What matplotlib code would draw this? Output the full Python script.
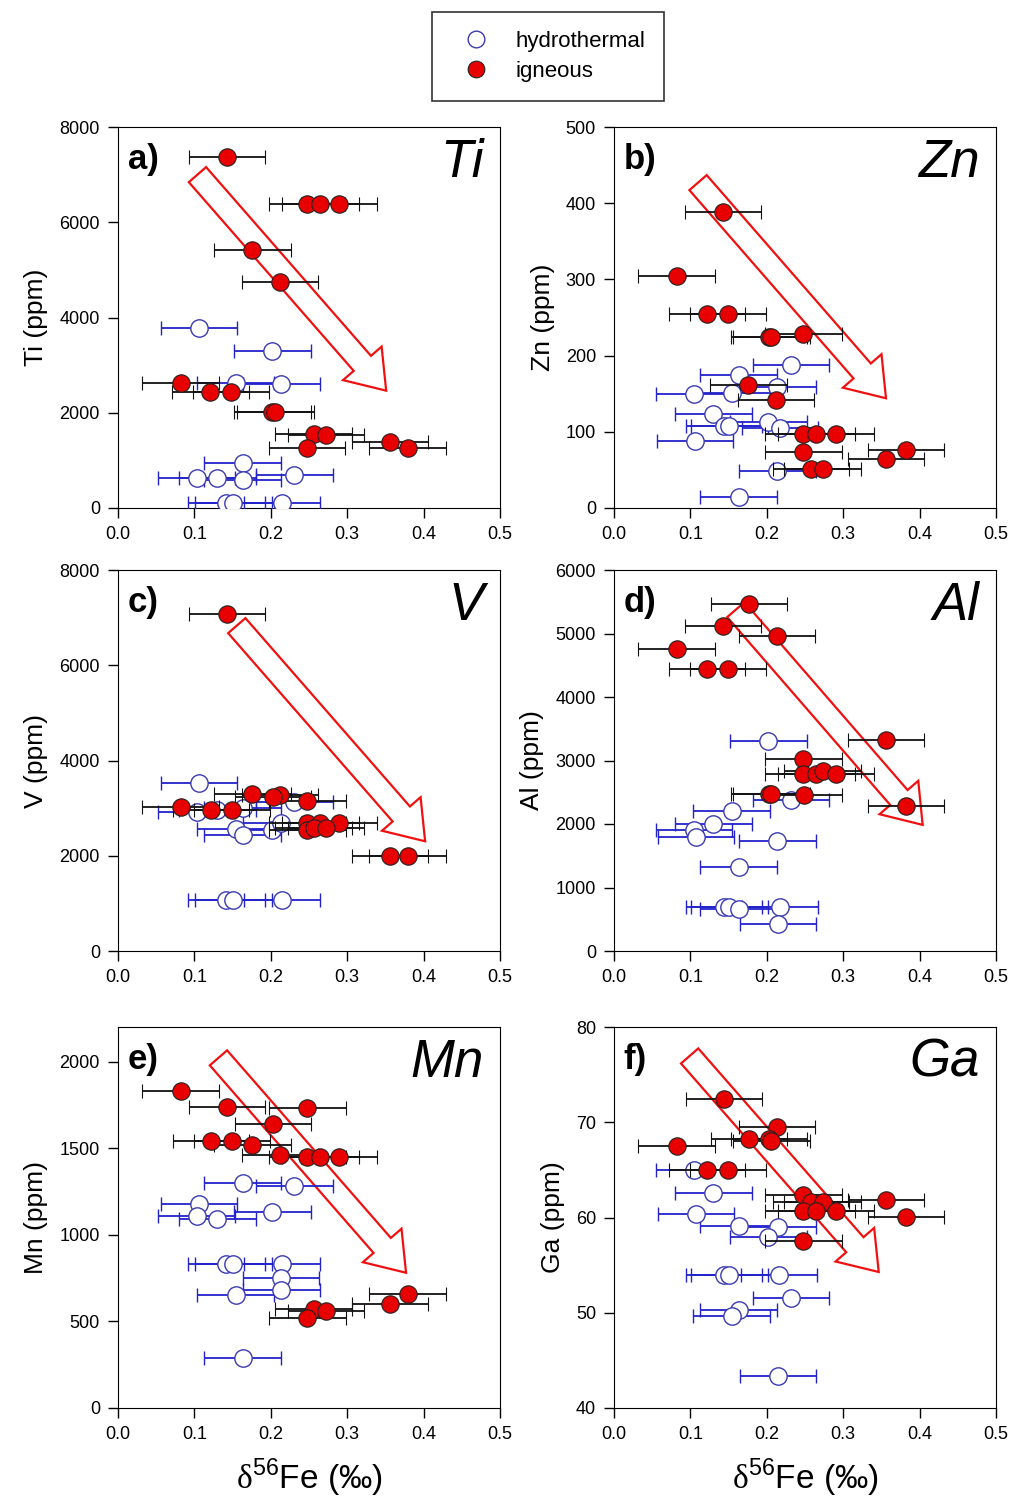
import numpy as np
import matplotlib.pyplot as plt
from matplotlib.lines import Line2D
from matplotlib.patches import FancyArrow

plt.rcParams['font.family'] = ['Liberation Sans', 'DejaVu Sans']
plt.rcParams['mathtext.fontset'] = 'custom'
plt.rcParams['mathtext.rm'] = 'Liberation Serif'
plt.rcParams['mathtext.sf'] = 'Liberation Sans'

# 2 s.d. on d56Fe (permil)
ign_err = 0.05
hyd_err = 0.05

# a) Ti
ti_ign_x = [0.143, 0.247, 0.265, 0.289, 0.176, 0.212, 0.082, 0.121, 0.148, 0.202, 0.206, 0.256, 0.272, 0.247, 0.356, 0.379]
ti_ign_y = [7380, 6380, 6380, 6380, 5420, 4750, 2620, 2430, 2430, 2020, 2020, 1550, 1530, 1250, 1390, 1270]
ti_hyd_x = [0.106, 0.202, 0.154, 0.214, 0.163, 0.103, 0.130, 0.163, 0.231, 0.142, 0.151, 0.215]
ti_hyd_y = [3790, 3300, 2620, 2600, 940, 640, 640, 590, 690, 110, 110, 110]

# b) Zn
zn_ign_x = [0.143, 0.082, 0.122, 0.149, 0.203, 0.206, 0.248, 0.176, 0.212, 0.248, 0.265, 0.290, 0.248, 0.382, 0.356, 0.258, 0.273]
zn_ign_y = [388, 304, 254, 254, 225, 225, 229, 161, 142, 97, 97, 97, 74, 76, 64, 51, 51]
zn_hyd_x = [0.232, 0.163, 0.105, 0.154, 0.214, 0.130, 0.202, 0.144, 0.151, 0.217, 0.106, 0.214, 0.163]
zn_hyd_y = [188, 175, 150, 151, 159, 124, 113, 107, 107, 105, 88, 48, 14]

# c) V
v_ign_x = [0.143, 0.176, 0.212, 0.203, 0.248, 0.082, 0.122, 0.149, 0.248, 0.265, 0.289, 0.248, 0.256, 0.272, 0.356, 0.379]
v_ign_y = [7080, 3300, 3280, 3230, 3160, 3020, 2970, 2970, 2690, 2690, 2690, 2550, 2580, 2580, 2000, 2000]
v_hyd_x = [0.106, 0.103, 0.130, 0.163, 0.231, 0.154, 0.163, 0.202, 0.214, 0.142, 0.151, 0.215]
v_hyd_y = [3530, 2910, 2970, 3000, 3120, 2560, 2440, 2550, 2690, 1080, 1080, 1080]

# d) Al
al_ign_x = [0.177, 0.143, 0.213, 0.082, 0.122, 0.149, 0.356, 0.248, 0.248, 0.265, 0.273, 0.290, 0.203, 0.206, 0.249, 0.382]
al_ign_y = [5470, 5120, 4960, 4760, 4440, 4440, 3330, 3020, 2790, 2780, 2830, 2780, 2480, 2470, 2450, 2280]
al_hyd_x = [0.202, 0.232, 0.154, 0.130, 0.105, 0.107, 0.214, 0.163, 0.144, 0.151, 0.163, 0.217, 0.215]
al_hyd_y = [3300, 2380, 2200, 2000, 1910, 1800, 1740, 1320, 700, 700, 660, 700, 420]

# e) Mn
mn_ign_x = [0.082, 0.143, 0.248, 0.203, 0.122, 0.149, 0.176, 0.212, 0.248, 0.265, 0.289, 0.379, 0.356, 0.256, 0.272, 0.248]
mn_ign_y = [1830, 1740, 1730, 1640, 1540, 1540, 1520, 1460, 1450, 1450, 1450, 660, 600, 570, 560, 520]
mn_hyd_x = [0.163, 0.231, 0.106, 0.103, 0.130, 0.202, 0.142, 0.151, 0.215, 0.213, 0.214, 0.154, 0.163]
mn_hyd_y = [1300, 1280, 1180, 1110, 1090, 1130, 830, 830, 830, 750, 680, 650, 290]

# f) Ga
ga_ign_x = [0.144, 0.213, 0.177, 0.203, 0.206, 0.082, 0.122, 0.149, 0.248, 0.258, 0.273, 0.356, 0.248, 0.265, 0.290, 0.382, 0.248]
ga_ign_y = [72.4, 69.5, 68.2, 68.2, 68.0, 67.5, 65.0, 65.0, 62.4, 61.6, 61.6, 61.8, 60.7, 60.7, 60.7, 60.1, 57.5]
ga_hyd_x = [0.105, 0.130, 0.107, 0.163, 0.215, 0.202, 0.144, 0.151, 0.216, 0.232, 0.163, 0.154, 0.215]
ga_hyd_y = [65.0, 62.6, 60.4, 59.1, 59.0, 58.0, 54.0, 54.0, 54.0, 51.5, 50.3, 49.7, 43.4]

red = '#e80000'
blue_bar = '#2323cc'
blue_edge = '#3a3ab0'

W, H = 1013, 1507
fig = plt.figure(figsize=(W / 100, H / 100), dpi=100)

def rect(x0, y0, x1, y1):
    return [x0 / W, 1 - y1 / H, (x1 - x0) / W, (y1 - y0) / H]

# rect, data, ylabel, ylim, yticks, letter, element, arrow tail, arrow tip (axes fraction)
panels = [
    (rect(118, 127, 500, 508), ti_ign_x, ti_ign_y, ti_hyd_x, ti_hyd_y, 'Ti (ppm)', (0, 8000), np.arange(0, 8001, 2000), 'a)', 'Ti', (0.208, 0.875), (0.702, 0.308)),
    (rect(614, 127, 996, 508), zn_ign_x, zn_ign_y, zn_hyd_x, zn_hyd_y, 'Zn (ppm)', (0, 500), np.arange(0, 501, 100), 'b)', 'Zn', (0.220, 0.854), (0.712, 0.288)),
    (rect(118, 570, 500, 951), v_ign_x, v_ign_y, v_hyd_x, v_hyd_y, 'V (ppm)', (0, 8000), np.arange(0, 8001, 2000), 'c)', 'V', (0.311, 0.854), (0.804, 0.288)),
    (rect(614, 570, 996, 951), al_ign_x, al_ign_y, al_hyd_x, al_hyd_y, 'Al (ppm)', (0, 6000), np.arange(0, 6001, 1000), 'd)', 'Al', (0.319, 0.896), (0.808, 0.331)),
    (rect(118, 1027, 500, 1408), mn_ign_x, mn_ign_y, mn_hyd_x, mn_hyd_y, 'Mn (ppm)', (0, 2200), np.arange(0, 2001, 500), 'e)', 'Mn', (0.263, 0.919), (0.754, 0.355)),
    (rect(614, 1027, 996, 1408), ga_ign_x, ga_ign_y, ga_hyd_x, ga_hyd_y, 'Ga (ppm)', (40, 80), np.arange(40, 81, 10), 'f)', 'Ga', (0.198, 0.924), (0.693, 0.357)),
]

for i, (r, ix, iy, hx, hy, ylab, ylim, yt, letter, elem, tail, tip) in enumerate(panels):
    ax = fig.add_axes(r)
    ax.errorbar(hx, hy, xerr=hyd_err, fmt='o', ms=12.5, mfc='white', mec=blue_edge, mew=1.0,
                ecolor=blue_bar, elinewidth=1.3, capsize=5, capthick=1.3, zorder=3)
    ax.errorbar(ix, iy, xerr=ign_err, fmt='o', ms=12.5, mfc=red, mec='#222222', mew=0.8,
                ecolor='#111111', elinewidth=1.3, capsize=5, capthick=1.3, zorder=4)
    arr = FancyArrow(tail[0], tail[1], tip[0] - tail[0], tip[1] - tail[1], width=0.06,
                     head_width=0.134, head_length=0.095, length_includes_head=True,
                     transform=ax.transAxes, fill=False, ec='#f01010', lw=1.6, zorder=2)
    ax.add_patch(arr)
    ax.set_xlim(0, 0.5)
    ax.set_ylim(*ylim)
    ax.set_xticks(np.arange(0, 0.51, 0.1))
    ax.set_xticklabels(['0.0', '0.1', '0.2', '0.3', '0.4', '0.5'])
    ax.set_yticks(yt)
    ax.tick_params(direction='out', length=7, width=1, labelsize=13, pad=6)
    ax.set_ylabel(ylab, fontsize=19, labelpad=8)
    ax.text(0.025, 0.89, letter, transform=ax.transAxes, fontsize=25, fontweight='bold',
            ha='left', va='baseline')
    ax.text(0.958, 0.972, elem, transform=ax.transAxes, fontsize=38, style='italic',
            ha='right', va='top')
    if i >= 4:
        ax.set_xlabel(r'$\mathrm{\delta}^{\mathsf{56}}$Fe (‰)', fontsize=24, labelpad=10)

handles = [
    Line2D([], [], ls='none', marker='o', ms=12, mfc='white', mec=blue_edge, mew=1.0),
    Line2D([], [], ls='none', marker='o', ms=12, mfc=red, mec='#222222', mew=0.8),
]
leg = fig.legend(handles, ['hydrothermal', 'igneous'], loc='upper left',
                 bbox_to_anchor=(432 / W, 1 - 12 / H), fontsize=16, frameon=True,
                 fancybox=False, edgecolor='black', borderpad=0.85, labelspacing=0.4,
                 handletextpad=0.6, handlelength=2.3, borderaxespad=0)
leg.get_frame().set_linewidth(1.2)

fig.savefig('out.png', dpi=100)
